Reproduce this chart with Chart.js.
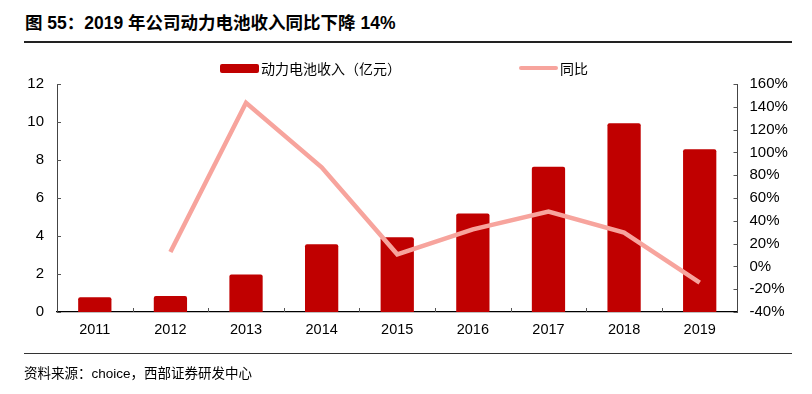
<!DOCTYPE html>
<html>
<head>
<meta charset="utf-8">
<script src="https://cdn.jsdelivr.net/npm/chart.js@4/dist/chart.umd.min.js"></script>
<style>
  html, body { margin: 0; padding: 0; background: #fff; }
  body { width: 812px; height: 394px; position: relative; overflow: hidden;
         font-family: "Liberation Sans", "Noto Sans CJK SC", sans-serif; color: #000; }
  #title { position: absolute; left: 25px; top: 9px; font-size: 17.5px; font-weight: bold; white-space: nowrap; }
  #rule-top { position: absolute; left: 24px; width: 768px; top: 41px; height: 1.5px; background: #222; }
  #rule-bottom { position: absolute; left: 24px; width: 768px; top: 353px; height: 1px; background: #333; }
  #source { position: absolute; left: 24px; top: 362px; font-size: 13.5px; white-space: nowrap; }
  #chart { position: absolute; left: 0; top: 0; }
  .legend { position: absolute; top: 58px; font-size: 14px; white-space: nowrap; display: flex; align-items: center; }
  .legend .sw { display: inline-block; width: 39px; margin-right: 2px; border-radius: 2px; }
</style>
</head>
<body>
<div id="title">图 55：2019 年公司动力电池收入同比下降 14%</div>
<div id="rule-top"></div>
<canvas id="chart" width="812" height="394"></canvas>
<div class="legend" style="left:220px"><span class="sw" id="sw-bar" style="height:9px"></span><span id="lb-bar"></span></div>
<div class="legend" style="left:519px"><span class="sw" id="sw-line" style="height:4px"></span><span id="lb-line"></span></div>
<div id="rule-bottom"></div>
<div id="source">资料来源：choice，西部证券研发中心</div>
<script>
const $ = (id) => document.getElementById(id);

const years = ['2011', '2012', '2013', '2014', '2015', '2016', '2017', '2018', '2019'];
const revenue = [0.77, 0.84, 1.98, 3.56, 3.93, 5.19, 7.65, 9.93, 8.56];
const yoy = [null, 12.6, 143.6, 86.9, 10.6, 32.5, 48, 29.6, -14.3];

const BAR = '#C00000';
const LINE = '#F7A49D';
const FONT = { family: '"Liberation Sans", "Noto Sans CJK SC", sans-serif', size: 14.5 };
const FONT_R = { family: FONT.family, size: 15 };

// legend in html, text taken from the dataset labels below
const barLabel = '动力电池收入（亿元）';
const lineLabel = '同比';
$('sw-bar').style.background = BAR;
$('sw-line').style.background = LINE;
$('lb-bar').textContent = barLabel;
$('lb-line').textContent = lineLabel;

// short tick marks pointing into the plot, like the original
const inwardTicks = {
    id: 'inwardTicks',
    afterDraw(chart) {
        const { ctx, scales: { x, y, y1 }, chartArea: a } = chart;
        ctx.save();
        ctx.lineWidth = 1;
        ctx.strokeStyle = '#555';
        y.ticks.forEach(t => {
            const py = Math.round(y.getPixelForValue(t.value)) + 0.5;
            ctx.beginPath(); ctx.moveTo(a.left, py); ctx.lineTo(a.left + 4, py); ctx.stroke();
        });
        y1.ticks.forEach(t => {
            const py = Math.round(y1.getPixelForValue(t.value)) + 0.5;
            ctx.beginPath(); ctx.moveTo(a.right, py); ctx.lineTo(a.right - 4, py); ctx.stroke();
        });
        for (let i = 1; i < years.length; i++) {
            const px = Math.round((x.getPixelForValue(i - 1) + x.getPixelForValue(i)) / 2) + 0.5;
            ctx.beginPath(); ctx.moveTo(px, a.bottom); ctx.lineTo(px, a.bottom - 4); ctx.stroke();
        }
        ctx.restore();
    }
};

new Chart($('chart'), {
    data: {
        labels: years,
        datasets: [
            { type: 'line', label: lineLabel, data: yoy, yAxisID: 'y1', borderColor: LINE, borderWidth: 4.5,
              pointRadius: 0, tension: 0, spanGaps: false, order: 0 },
            { type: 'bar', label: barLabel, data: revenue, yAxisID: 'y', backgroundColor: BAR,
              borderRadius: 2, borderSkipped: 'bottom', barPercentage: 0.44, categoryPercentage: 1, order: 1 }
        ]
    },
    options: {
        responsive: false,
        animation: false,
        layout: { padding: { top: 84, left: 0, right: 0, bottom: 0 } },
        plugins: { legend: { display: false }, tooltip: { enabled: false } },
        scales: {
            x: {
                grid: { display: false, drawTicks: false },
                border: { display: true, color: '#000', width: 1.3 },
                ticks: { font: FONT, color: '#000', padding: 9 },
                afterFit: (s) => { s.height = 82; }
            },
            y: {
                position: 'left', min: 0, max: 12,
                grid: { display: false, drawTicks: false },
                border: { display: true, color: '#444', width: 1 },
                ticks: { stepSize: 2, font: FONT_R, color: '#000', padding: 13 },
                afterFit: (s) => { s.width = 57; }
            },
            y1: {
                position: 'right', min: -40, max: 160,
                grid: { display: false, drawTicks: false },
                border: { display: true, color: '#444', width: 1 },
                ticks: { stepSize: 20, font: FONT_R, color: '#000', padding: 12, callback: (v) => v + '%' },
                afterFit: (s) => { s.width = 74.5; }
            }
        }
    },
    plugins: [inwardTicks]
});
</script>
</body>
</html>
